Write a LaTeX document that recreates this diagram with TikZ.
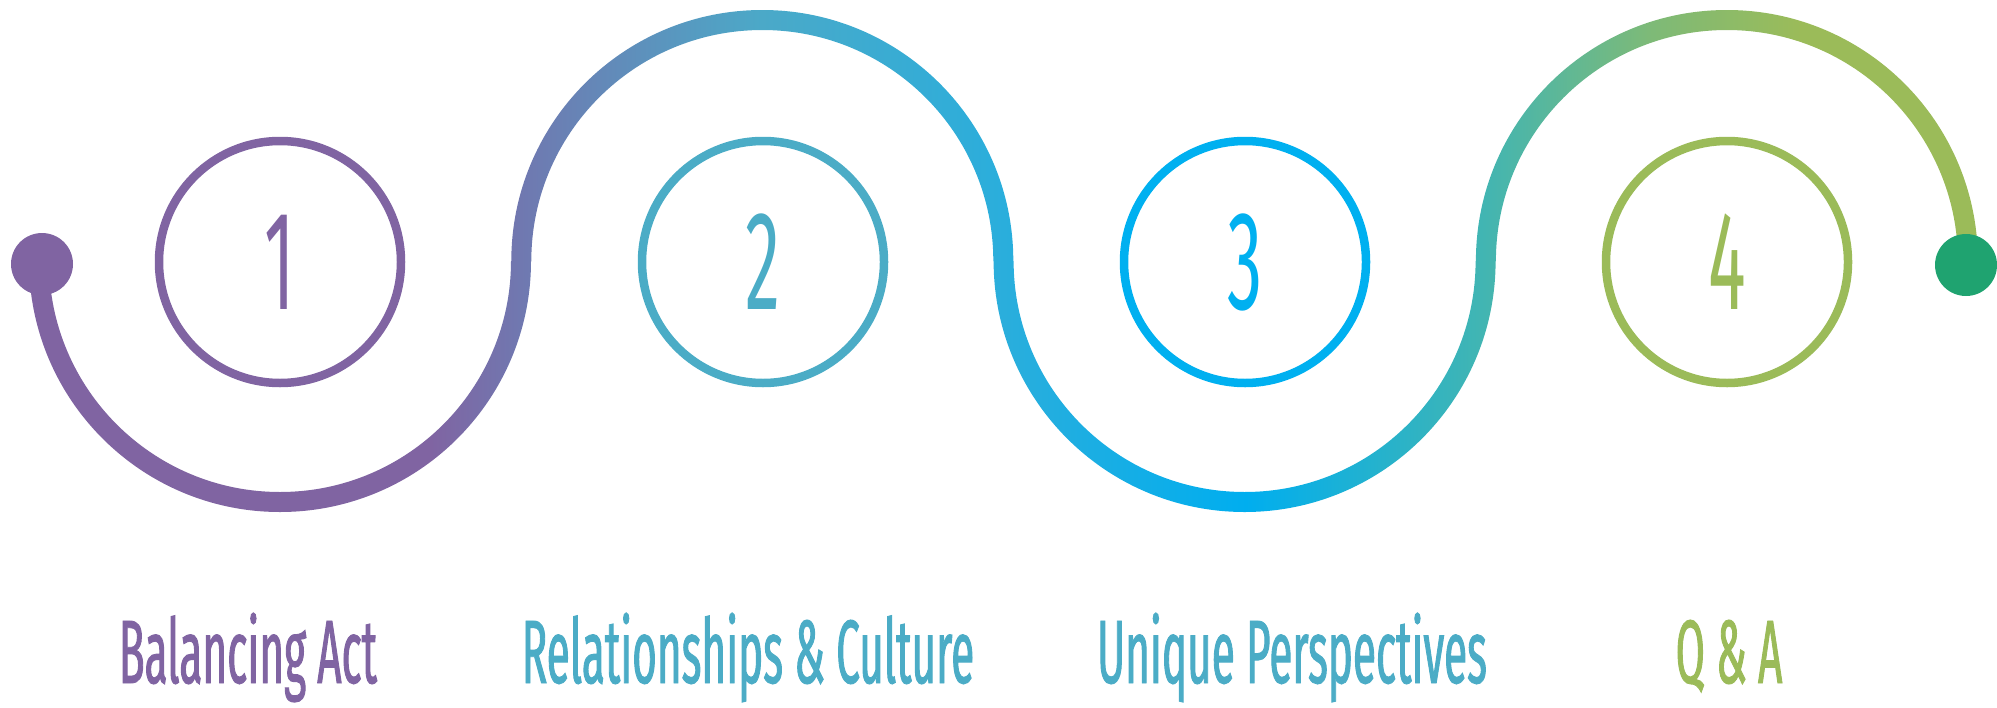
\documentclass[tikz,border=0pt]{standalone}
\usepackage{fontspec}
\setmainfont[FakeStretch=0.47, FakeBold=1]{Fira Sans}
\newfontfamily\digitfont[FakeStretch=0.5]{Fira Sans}

\definecolor{wpurple}{HTML}{8064A2}
\definecolor{waqua}{HTML}{4BACC6}
\definecolor{wblue}{HTML}{00B0F0}
\definecolor{wolive}{HTML}{9BBB59}
\definecolor{wgreen}{HTML}{1FA370}

% colour along the wave, left to right
\pgfdeclarehorizontalshading{wavefill}{100bp}{color(0bp)=(wpurple); color(35.3bp)=(wpurple);
  color(37.6bp)=(rgb,255:red,112;green,120;blue,176); color(43.8bp)=(rgb,255:red,75;green,169;blue,200);
  color(50bp)=(rgb,255:red,42;green,174;blue,220); color(56.2bp)=(rgb,255:red,0;green,174;blue,239);
  color(62.3bp)=(rgb,255:red,66;green,181;blue,178); color(66.5bp)=(rgb,255:red,125;green,186;blue,120);
  color(70.4bp)=(wolive); color(100bp)=(wolive)}

\begin{document}
\begin{tikzpicture}[x=1pt, y=1pt,
    ring/.style={circle, draw=#1, line width=8.5pt, minimum size=242pt, inner sep=0pt,
      text=#1, font=\digitfont\fontsize{141}{145}\selectfont},
    caption/.style={anchor=base, text=#1, font=\fontsize{90}{96}\selectfont},
    blob/.style={circle, fill=#1, minimum size=62pt, inner sep=0pt}]
    \useasboundingbox (0,0) rectangle (1997,-707);

    % the wave: four half rings, shaded from left to right
    \begin{scope}
        \clip \foreach \i/\e in {0/360, 1/0, 2/360, 3/0} {
            (280+482.3*\i-251, -261) arc[start angle=180, end angle=\e, radius=251]
            -- ++(-20,0) arc[start angle=\e, end angle=180, radius=231] -- cycle };
        \shade[shading=wavefill] (28,0) rectangle (1980,-520);
    \end{scope}

    \node (start) [blob=wpurple] at (42,-264) {};
    \node (stop) [blob=wgreen] at (1966,-265) {};

    \node (c1) [ring=wpurple] at (280,-262) {1};
    \node (c2) [ring=waqua] at (763,-262) {2};
    \node (c3) [ring=wblue] at (1245,-262) {3};
    \node (c4) [ring=wolive] at (1727,-262) {4};

    \node (t1) [caption=wpurple] at (248,-683) {Balancing Act};
    \node (t2) [caption=waqua] at (748,-683) {Relationships \& Culture};
    \node (t3) [caption=waqua] at (1292,-683) {Unique Perspectives};
    \node (t4) [caption=wolive] at (1729,-683) {Q \& A};
\end{tikzpicture}
\end{document}
